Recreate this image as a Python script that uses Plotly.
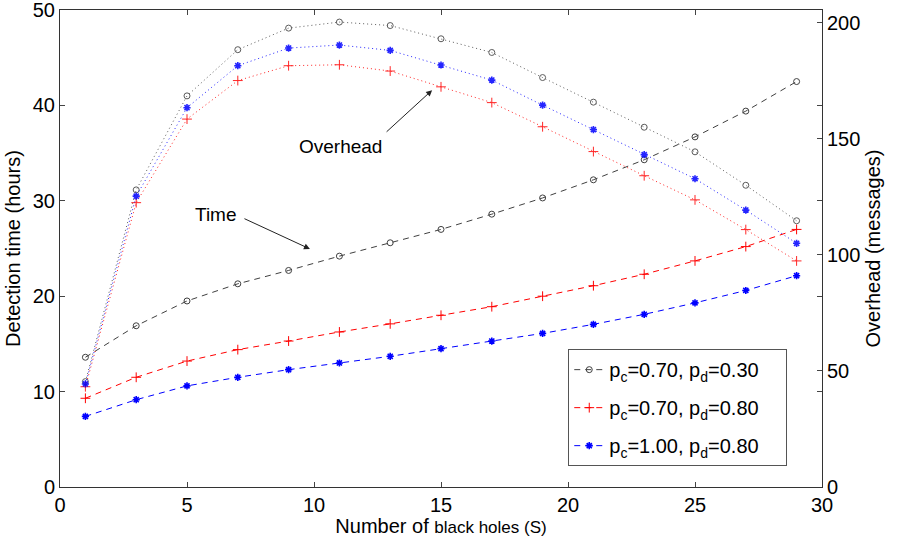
import plotly.graph_objects as go

S = [1, 3, 5, 7, 9, 11, 13, 15, 17, 19, 21, 23, 25, 27, 29]

time_a = [13.6, 16.9, 19.5, 21.3, 22.7, 24.2, 25.6, 27.0, 28.6, 30.3, 32.2, 34.3, 36.7, 39.4, 42.5]
time_b = [9.3, 11.5, 13.2, 14.4, 15.3, 16.25, 17.1, 18.0, 18.9, 20.0, 21.1, 22.3, 23.7, 25.2, 27.0]
time_c = [7.4, 9.15, 10.6, 11.5, 12.3, 13.0, 13.7, 14.5, 15.3, 16.1, 17.05, 18.1, 19.3, 20.6, 22.15]

ovh_a = [45.4, 128.0, 168.5, 188.4, 197.7, 200.3, 198.8, 193.1, 187.2, 176.4, 165.8, 155.0, 144.4, 130.0, 114.7]
ovh_b = [43.2, 122.5, 158.5, 175.1, 181.5, 181.9, 179.2, 172.4, 165.6, 155.2, 144.5, 134.1, 123.7, 110.9, 97.4]
ovh_c = [44.4, 125.3, 163.4, 181.5, 189.1, 190.4, 188.1, 181.8, 175.3, 164.5, 154.0, 143.2, 132.8, 119.3, 105.0]

labels = ["p<sub>c</sub>=0.70, p<sub>d</sub>=0.30",
          "p<sub>c</sub>=0.70, p<sub>d</sub>=0.80",
          "p<sub>c</sub>=1.00, p<sub>d</sub>=0.80"]
colors = ["#404040", "#ff0000", "#0000ff"]
symbols = ["circle-open", "cross-thin-open", "asterisk-open"]
msizes = [6, 7, 6]
mwidths = [1, 1, 1.6]

fig = go.Figure()

for i, (t, o, lab, col, sym, ms, mw) in enumerate(zip(
        [time_a, time_b, time_c], [ovh_a, ovh_b, ovh_c],
        labels, colors, symbols, msizes, mwidths)):
    fig.add_trace(go.Scatter(
        x=S, y=t, mode="lines+markers", name=lab + "\u00a0\u00a0\u00a0\u00a0",
        legendgroup=f"g{i}",
        line=dict(color=col, width=1, dash="6px,5px"),
        marker=dict(symbol=sym, size=ms, color=col, line=dict(color=col, width=mw)),
        yaxis="y"))
    fig.add_trace(go.Scatter(
        x=S, y=o, mode="lines+markers", showlegend=False, legendgroup=f"g{i}",
        line=dict(color=col, width=1, dash="1px,3px"),
        opacity=0.85,
        marker=dict(symbol=sym, size=ms, color=col, line=dict(color=col, width=mw)),
        yaxis="y2"))

font_family = "Liberation Sans, Arial, sans-serif"

fig.update_layout(
    width=898, height=537,
    margin=dict(l=60, r=76, t=10, b=50, autoexpand=False),
    paper_bgcolor="white", plot_bgcolor="white",
    font=dict(family=font_family, size=20, color="black"),
    showlegend=True,
    legend=dict(x=0.667, y=0.289, xanchor="left", yanchor="top",
                bordercolor="#555555", borderwidth=1, bgcolor="white",
                font=dict(size=20), tracegroupgap=9, itemwidth=30),
    xaxis=dict(range=[0, 30], tickvals=[0, 5, 10, 15, 20, 25, 30],
               ticks="inside", ticklen=5, showline=True, linecolor="#333333",
               linewidth=1, mirror="ticks", showgrid=False, zeroline=False,
               automargin=False, tickfont=dict(size=20), ticklabeloverflow="allow",
               title=dict(text="Number of <span style='font-size:17px'>black holes (S)</span>",
                          font=dict(size=20), standoff=0)),
    yaxis=dict(range=[0, 50], tickvals=[0, 10, 20, 30, 40, 50],
               ticks="inside", ticklen=5, showline=True, linecolor="#333333",
               linewidth=1, mirror="ticks", showgrid=False, zeroline=False,
               automargin=False, tickfont=dict(size=20), ticklabeloverflow="allow",
               title=dict(text="Detection time (hours)", font=dict(size=20), standoff=6)),
    yaxis2=dict(range=[0, 205.5], tickvals=[0, 50, 100, 150, 200],
                overlaying="y", side="right",
                ticks="inside", ticklen=5, showline=True, linecolor="#333333",
                linewidth=1, showgrid=False, zeroline=False,
                automargin=False, tickfont=dict(size=20), ticklabeloverflow="allow",
                title=dict(text="Overhead (messages)", font=dict(size=20), standoff=6)),
)

# Overhead annotation
fig.add_annotation(x=14.65, y=41.6, xref="x", yref="y", text="", showarrow=True,
                   ax=-47, ay=43, arrowhead=2, arrowsize=1.2, arrowwidth=1,
                   arrowcolor="#222222")
fig.add_annotation(x=11.05, y=35.7, xref="x", yref="y", text="Overhead",
                   showarrow=False, font=dict(size=19))
# Time annotation
fig.add_annotation(x=9.84, y=24.95, xref="x", yref="y", text="", showarrow=True,
                   ax=-67, ay=-31, arrowhead=2, arrowsize=1.2, arrowwidth=1,
                   arrowcolor="#222222")
fig.add_annotation(x=6.15, y=28.6, xref="x", yref="y", text="Time",
                   showarrow=False, font=dict(size=19))

fig.write_html("out.html")
